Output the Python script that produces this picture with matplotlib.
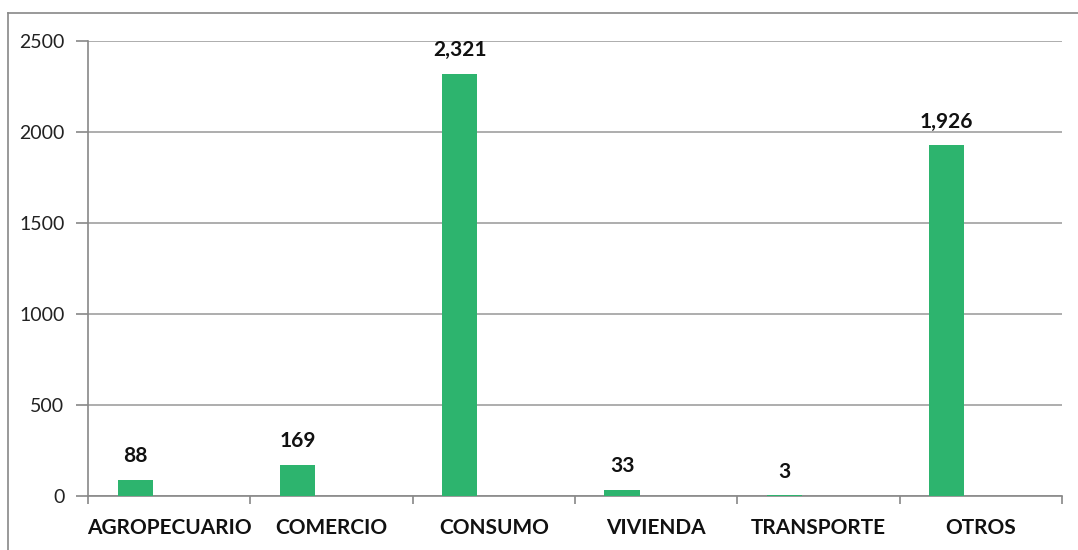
import numpy as np
import matplotlib
matplotlib.use("Agg")
import matplotlib.pyplot as plt
from matplotlib.lines import Line2D

categories = ["AGROPECUARIO", "COMERCIO", "CONSUMO", "VIVIENDA", "TRANSPORTE", "OTROS"]
values = [88, 169, 2321, 33, 3, 1926]
value_labels = ["88", "169", "2,321", "33", "3", "1,926"]
y_ticks = [0, 500, 1000, 1500, 2000, 2500]

plt.rcParams['font.family'] = ['Lato', 'DejaVu Sans']

fig = plt.figure(figsize=(10.78, 5.5), dpi=100)
ax = fig.add_axes([0.0816, 0.0982, 0.9035, 0.8273])

x = np.arange(len(categories))
bar_w = 0.216
bars = ax.bar(x - 0.21, values, width=bar_w, color="#2db46e", zorder=3)

# value labels above each bar
for b, lab in zip(bars, value_labels):
    ax.annotate(lab, (b.get_x() + b.get_width() / 2, b.get_height()),
                xytext=(0, 10), textcoords="offset points",
                ha="center", va="bottom", fontsize=15, fontweight="bold",
                color="#111111", zorder=4)

ax.set_xlim(-0.5, len(categories) - 0.5)
ax.set_ylim(0, 2500)
ax.set_yticks(y_ticks)
ax.set_yticklabels([str(t) for t in y_ticks], fontsize=14, color="#222222")
ax.yaxis.grid(True, color="#a0a0a0", linewidth=1.2, zorder=0)

ax.set_xticks(x)
ax.set_xticklabels(categories, fontsize=15, fontweight="bold", color="#111111")
ax.set_xticks(np.arange(len(categories) + 1) - 0.5, minor=True)
ax.tick_params(axis="x", which="major", length=0, pad=16)
ax.tick_params(axis="x", which="minor", length=6, color="#888888", width=1.2)
ax.tick_params(axis="y", length=9, color="#888888", width=1.2, pad=8)

for side in ["top", "right"]:
    ax.spines[side].set_visible(False)
for side in ["left", "bottom"]:
    ax.spines[side].set_color("#888888")
    ax.spines[side].set_linewidth(1.2)

# outer chart border (top and left edges visible)
fig.add_artist(Line2D([0.0074, 1.0], [0.977, 0.977], transform=fig.transFigure,
                      color="#888888", linewidth=1.2))
fig.add_artist(Line2D([0.0074, 0.0074], [0.0, 0.977], transform=fig.transFigure,
                      color="#888888", linewidth=1.2))

fig.savefig("out.png", dpi=100)
